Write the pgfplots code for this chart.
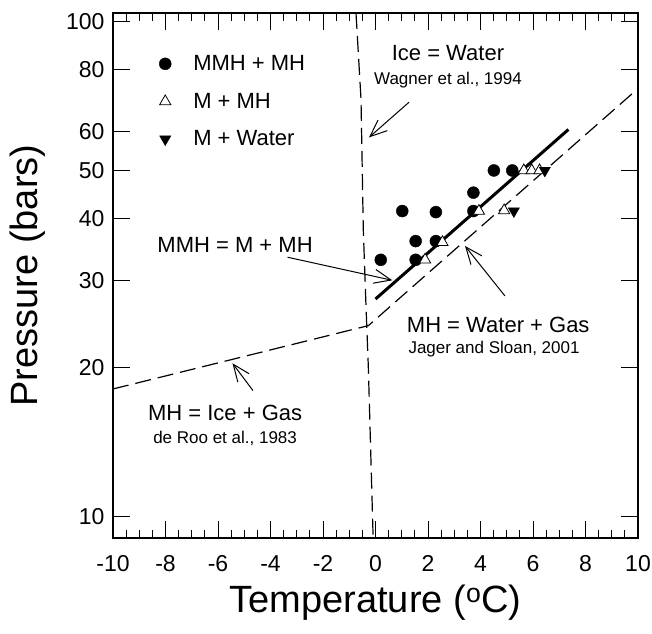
\documentclass[border=0pt]{standalone}
\usepackage{fontspec}
\setmainfont{Liberation Sans}
\usepackage{pgfplots}
\pgfplotsset{compat=1.18}
\usetikzlibrary{arrows.meta}
\begin{document}
\begin{tikzpicture}
\useasboundingbox (-113pt,-95pt) rectangle (539pt,538pt);
\begin{axis}[
  at={(0pt,0pt)}, anchor=south west,
  scale only axis, width=525pt, height=525pt,
  ymode=log,
  xmin=-10, xmax=10, ymin=9.05, ymax=104,
  xtick={-10,-8,-6,-4,-2,0,2,4,6,8,10},
  xticklabels={-10,-8,-6,-4,-2,0,2,4,6,8,10},
  minor x tick num=3,
  ytick={10,20,30,40,50,60,80,100},
  yticklabels={10,20,30,40,50,60,80,100},
  yminorticks=false,
  tick align=inside,
  major tick length=17pt, minor tick length=8pt,
  axis line style={line width=1.6pt},
  every tick/.style={line width=1pt, black},
  tick label style={font=\fontsize{23}{27}\selectfont},
  xticklabel style={yshift=-14pt},
  yticklabel style={xshift=-5pt},
  xlabel={Temperature (\textsuperscript{o}C)},
  ylabel={Pressure (bars)},
  every axis x label/.style={at={(rel axis cs:0.5,0)}, anchor=base, yshift=-74pt, font=\fontsize{38}{44}\selectfont},
  every axis y label/.style={at={(rel axis cs:-0.162,0.5)}, anchor=center, rotate=90, font=\fontsize{38}{44}\selectfont},
  legend style={draw=none, fill=none, at={(rel axis cs:0.082,0.927)}, anchor=north west,
    font=\fontsize{22}{26}\selectfont, row sep=17pt,
    /tikz/every odd column/.append style={column sep=20pt}},
  legend cell align=left,
]
% data points
\addplot[only marks, mark=*, mark size=6pt, black]
  coordinates {(0.2,33)(1.53,36)(1.53,33)(1.02,41.4)(2.3,41.2)(2.3,36)(3.73,45.1)(3.73,41.4)(4.51,50)(5.21,50)};
\addlegendentry{MMH + MH}
\addplot[only marks, mark=triangle*, mark size=6.5pt, mark options={fill=white, draw=black, line width=0.8pt}]
  coordinates {(1.89,33)(2.55,35.8)(3.94,41.4)(4.9,41.5)(5.65,50)(5.95,50)(6.25,50)};
\addlegendentry{M + MH}
\addplot[only marks, mark=triangle*, mark size=6.5pt, mark options={rotate=180, fill=black, draw=black}]
  coordinates {(5.27,41.4)(6.45,50)};
\addlegendentry{M + Water}
% solid line MMH = M + MH
\addplot[black, line width=3pt, forget plot] coordinates {(0,27.5)(7.35,60.5)};
% dashed phase boundaries
\addplot[black, line width=1.2pt, dash pattern=on 16pt off 7pt, forget plot]
  coordinates {(-10,18.1)(-0.27,24.3)(10,73.2)};
\addplot[black, line width=1.2pt, dash pattern=on 16pt off 7pt, forget plot]
  coordinates {(-0.743,104)(-0.552,69.6)(-0.465,38.0)(-0.373,27.6)(-0.274,20.1)(-0.09,9.05)};
% annotation arrows
\draw[line width=1pt, -{Straight Barb[length=17pt,width=14pt,line width=1pt]}] (axis cs:1.28,68.7) -- (axis cs:-0.25,58.3);
\draw[line width=1pt, -{Straight Barb[length=17pt,width=14pt,line width=1pt]}] (axis cs:-3.35,33.4) -- (axis cs:0.64,30.0);
\draw[line width=1pt, -{Straight Barb[length=17pt,width=14pt,line width=1pt]}] (axis cs:4.93,27.9) -- (axis cs:3.41,35.2);
\draw[line width=1pt, -{Straight Barb[length=17pt,width=14pt,line width=1pt]}] (axis cs:-4.67,17.97) -- (axis cs:-5.45,20.4);
% annotation texts
\node[font=\fontsize{22}{26}\selectfont] at (axis cs:2.76,86.5) {Ice = Water};
\node[font=\fontsize{17}{20}\selectfont] at (axis cs:2.76,76.0) {Wagner et al., 1994};
\node[font=\fontsize{22}{26}\selectfont] at (axis cs:-5.35,35.4) {MMH = M + MH};
\node[font=\fontsize{22}{26}\selectfont, anchor=west, inner sep=0pt] at (axis cs:1.19,24.4) {MH = Water + Gas};
\node[font=\fontsize{17}{20}\selectfont, anchor=west, inner sep=0pt] at (axis cs:1.25,21.8) {Jager and Sloan, 2001};
\node[font=\fontsize{22}{26}\selectfont] at (axis cs:-5.73,16.2) {MH = Ice + Gas};
\node[font=\fontsize{17}{20}\selectfont] at (axis cs:-5.73,14.4) {de Roo et al., 1983};
\end{axis}
\end{tikzpicture}
\end{document}
